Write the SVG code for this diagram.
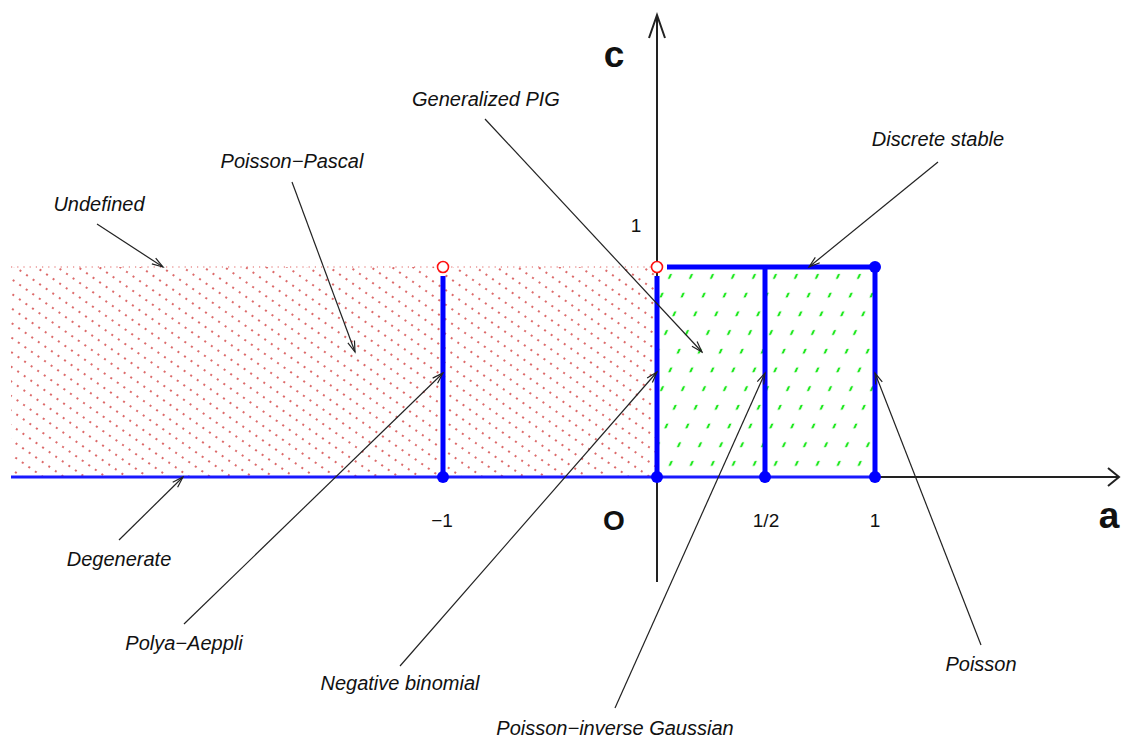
<svg xmlns="http://www.w3.org/2000/svg" width="1122" height="738" viewBox="0 0 1122 738">
<style>
.lbl{font-family:"Liberation Sans",Arial,sans-serif;font-style:italic;font-size:20px;fill:#111;text-anchor:middle}
.tick{font-family:"Liberation Sans",Arial,sans-serif;font-size:19px;fill:#111;text-anchor:middle}
.axl{font-family:"Liberation Sans",Arial,sans-serif;font-weight:bold;fill:#111;text-anchor:middle}
.axis{stroke:#222;stroke-width:2;fill:none}
.conn{stroke:#222;stroke-width:1.2;fill:none;marker-end:url(#ah)}
.thick{stroke:#0000ff;stroke-width:5;fill:none}
.thin{stroke:#1a1aff;stroke-width:3;fill:none}
.open{stroke:#ff1010;stroke-width:1.6;fill:#fff}
.dot{fill:#0000ff}
</style>
<defs>
<marker id="ah" markerUnits="userSpaceOnUse" markerWidth="14" markerHeight="10" viewBox="-12 -5 14 10" refX="0" refY="0" orient="auto">
<path d="M-11,-3.5 L0,0 L-11,3.5" fill="none" stroke="#222" stroke-width="1.2"/>
</marker>
<pattern id="redp" patternUnits="userSpaceOnUse" width="8" height="12" patternTransform="rotate(35)">
<circle cx="4" cy="6" r="1" fill="#d03838"/>
</pattern>
<pattern id="greenp" patternUnits="userSpaceOnUse" x="657" y="267" width="21" height="18.7" patternTransform="skewX(-24)">
<line x1="10" y1="7" x2="10" y2="11.8" stroke="#1ee81e" stroke-width="2.3"/>
</pattern>
</defs>
<rect width="1122" height="738" fill="#fff"/>
<g id="regions">
<rect x="11" y="267" width="646" height="210" fill="url(#redp)"/>
<line x1="11" y1="267" x2="657" y2="267" stroke="#e06060" stroke-width="1.2" stroke-dasharray="1.2 5"/>
<rect x="657" y="267" width="218" height="210" fill="url(#greenp)"/>
</g>
<g id="axes">
<line class="axis" x1="657" y1="477" x2="1119" y2="477"/>
<path class="axis" d="M1108,468 L1119,477 L1108,486"/>
<line class="axis" x1="657" y1="582" x2="657" y2="15"/>
<path class="axis" d="M649,38 L657,15 L665,38"/>
</g>
<g id="segments">
<line class="thin" x1="11" y1="477" x2="875" y2="477"/>
<line class="thick" x1="443" y1="276" x2="443" y2="477"/>
<line class="thick" x1="657" y1="276" x2="657" y2="477"/>
<line class="thick" x1="765" y1="267" x2="765" y2="477"/>
<line class="thick" x1="875" y1="267" x2="875" y2="477"/>
<line class="thick" x1="667" y1="267" x2="875" y2="267"/>
<circle class="open" cx="443" cy="267" r="5.5"/>
<circle class="open" cx="657" cy="267" r="5.5"/>
<circle class="dot" cx="443" cy="477" r="6"/>
<circle class="dot" cx="657" cy="477" r="6"/>
<circle class="dot" cx="765" cy="477" r="6"/>
<circle class="dot" cx="875" cy="477" r="6"/>
<circle class="dot" cx="875" cy="267" r="6"/>
</g>
<g id="axis-labels">
<text class="axl" x="614" y="67" font-size="37">c</text>
<text class="axl" x="1109" y="528" font-size="37">a</text>
<text class="axl" x="614" y="530" font-size="28">O</text>
<text class="tick" x="442" y="527">−1</text>
<text class="tick" x="766" y="527">1/2</text>
<text class="tick" x="875" y="527">1</text>
<text class="tick" x="636" y="232">1</text>
</g>
<g id="connectors">
<line class="conn" x1="97" y1="224" x2="163" y2="267"/>
<line class="conn" x1="292" y1="182" x2="355" y2="352"/>
<line class="conn" x1="485" y1="119" x2="702" y2="352"/>
<line class="conn" x1="938" y1="162" x2="809" y2="267"/>
<line class="conn" x1="119" y1="540" x2="183" y2="477"/>
<line class="conn" x1="184" y1="624" x2="443" y2="373"/>
<line class="conn" x1="400" y1="666" x2="657" y2="372"/>
<line class="conn" x1="615" y1="708" x2="765" y2="373"/>
<line class="conn" x1="981" y1="645" x2="875" y2="373"/>
</g>
<g id="node-undefined"><text class="lbl" x="99" y="211">Undefined</text></g>
<g id="node-poisson-pascal"><text class="lbl" x="292" y="168">Poisson−Pascal</text></g>
<g id="node-generalized-pig"><text class="lbl" x="486" y="106">Generalized PIG</text></g>
<g id="node-discrete-stable"><text class="lbl" x="938" y="146">Discrete stable</text></g>
<g id="node-degenerate"><text class="lbl" x="119" y="566">Degenerate</text></g>
<g id="node-polya-aeppli"><text class="lbl" x="184" y="650">Polya−Aeppli</text></g>
<g id="node-negative-binomial"><text class="lbl" x="400" y="690">Negative binomial</text></g>
<g id="node-pig"><text class="lbl" x="615" y="735">Poisson−inverse Gaussian</text></g>
<g id="node-poisson"><text class="lbl" x="981" y="671">Poisson</text></g>
</svg>
